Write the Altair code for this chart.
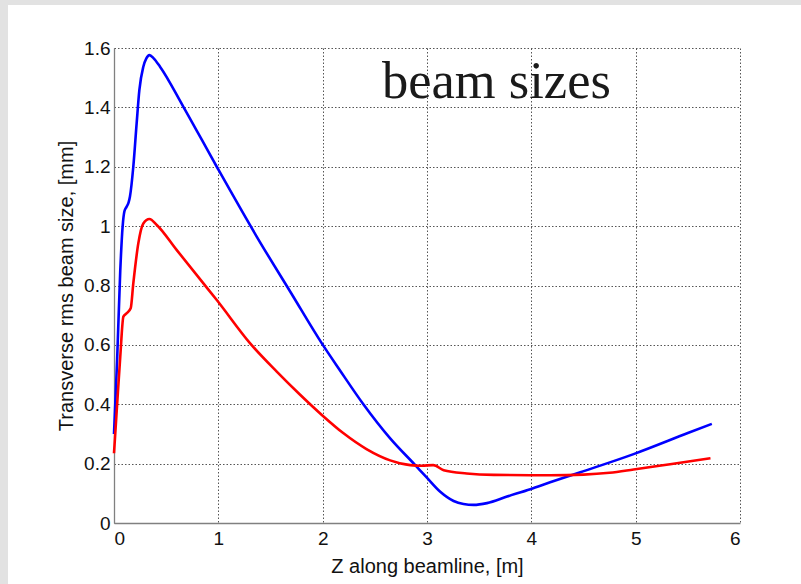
import altair as alt
import pandas as pd

# ---- data ----
blue_z = [0.0, 0.03, 0.06, 0.083, 0.1, 0.12, 0.14, 0.153, 0.185, 0.217, 0.243, 0.281,
          0.31, 0.34, 0.38, 0.441, 0.665, 0.985, 1.369, 1.70, 1.992, 2.168, 2.39,
          2.647, 2.887, 2.99, 3.127, 3.255, 3.35, 3.447, 3.575, 3.767, 3.99, 4.18,
          4.47, 4.98, 5.5, 5.73]
blue_v = [0.30, 0.55, 0.85, 1.0, 1.05, 1.065, 1.08, 1.10, 1.20, 1.346, 1.458, 1.537,
          1.565, 1.576, 1.565, 1.537, 1.402, 1.20, 0.964, 0.773, 0.605, 0.513, 0.40,
          0.285, 0.195, 0.156, 0.105, 0.074, 0.064, 0.061, 0.067, 0.089, 0.114, 0.137,
          0.171, 0.232, 0.303, 0.334]

red_z = [0.0, 0.03, 0.06, 0.09, 0.12, 0.16, 0.185, 0.233, 0.281, 0.339, 0.41, 0.6,
         0.857, 0.985, 1.305, 1.56, 1.784, 1.992, 2.2, 2.42, 2.647, 2.84, 2.95, 3.06,
         3.16, 3.38, 3.64, 3.99, 4.18, 4.5, 4.75, 4.98, 5.33, 5.717]
red_v = [0.235, 0.40, 0.56, 0.695, 0.706, 0.723, 0.807, 0.942, 1.009, 1.024, 1.004, 0.92,
         0.807, 0.751, 0.605, 0.51, 0.432, 0.364, 0.302, 0.249, 0.211, 0.195, 0.193, 0.195,
         0.178, 0.167, 0.162, 0.161, 0.161, 0.163, 0.169, 0.18, 0.198, 0.218]

x_ticks = [0, 1, 2, 3, 4, 5, 6]
y_ticks = [0, 0.2, 0.4, 0.6, 0.8, 1, 1.2, 1.4, 1.6]
series_names = ["blue", "red"]
series_colors = ["#0000ff", "#ff0000"]
title_text = "beam sizes"
x_title = "Z along beamline, [m]"
y_title = "Transverse rms beam size, [mm]"

df = pd.concat([
    pd.DataFrame({"z": blue_z, "v": blue_v, "s": "blue"}),
    pd.DataFrame({"z": red_z, "v": red_v, "s": "red"}),
], ignore_index=True)

W, H = 626, 475
PL, PT = 114, 48

lines = alt.Chart(df).mark_line(strokeWidth=2.6, clip=False, interpolate="monotone").encode(
    x=alt.X("z:Q",
            scale=alt.Scale(domain=[0, 6], nice=False, zero=False),
            axis=alt.Axis(values=x_ticks, format="~g", title=x_title,
                          labelPadding=6, titlePadding=8)),
    y=alt.Y("v:Q",
            scale=alt.Scale(domain=[0, 1.6], nice=False),
            axis=alt.Axis(values=y_ticks, format="~g", title=y_title,
                          labelPadding=4, titlePadding=7)),
    color=alt.Color("s:N", scale=alt.Scale(domain=series_names, range=series_colors),
                    legend=None),
)

title_mark = alt.Chart(alt.Data(values=[{"t": title_text}])).mark_text(
    font="Liberation Serif", fontSize=52.5, color="#1a1a1a",
    align="left", baseline="alphabetic",
).encode(text="t:N", x=alt.value(268), y=alt.value(50))

strip_left = alt.Chart(alt.Data(values=[{}])).mark_rect(color="#e2e2e2").encode(
    x=alt.value(-PL), x2=alt.value(-PL + 8), y=alt.value(-PT), y2=alt.value(584 - PT))
strip_top = alt.Chart(alt.Data(values=[{}])).mark_rect(color="#e2e2e2").encode(
    x=alt.value(-PL), x2=alt.value(801 - PL), y=alt.value(-PT), y2=alt.value(-PT + 5))

chart = alt.layer(lines, title_mark, strip_left, strip_top).properties(
    width=W, height=H,
    padding={"left": PL, "top": PT, "right": 801 - PL - W, "bottom": 584 - PT - H},
    autosize=alt.AutoSizeParams(type="none"),
).configure(
    background="white",
).configure_view(
    stroke=None,
).configure_axis(
    labelFont="Liberation Sans", labelFontSize=19, labelColor="#111",
    titleFont="Liberation Sans", titleFontSize=20, titleFontWeight="normal", titleColor="#111",
    domainColor="#808080", domainWidth=1.3,
    tickSize=0,
    grid=True, gridColor="#555555", gridDash=[1.5, 2], gridWidth=1, gridOpacity=1,
)

chart.save("out.html", embed_options={"renderer": "svg", "actions": False})
